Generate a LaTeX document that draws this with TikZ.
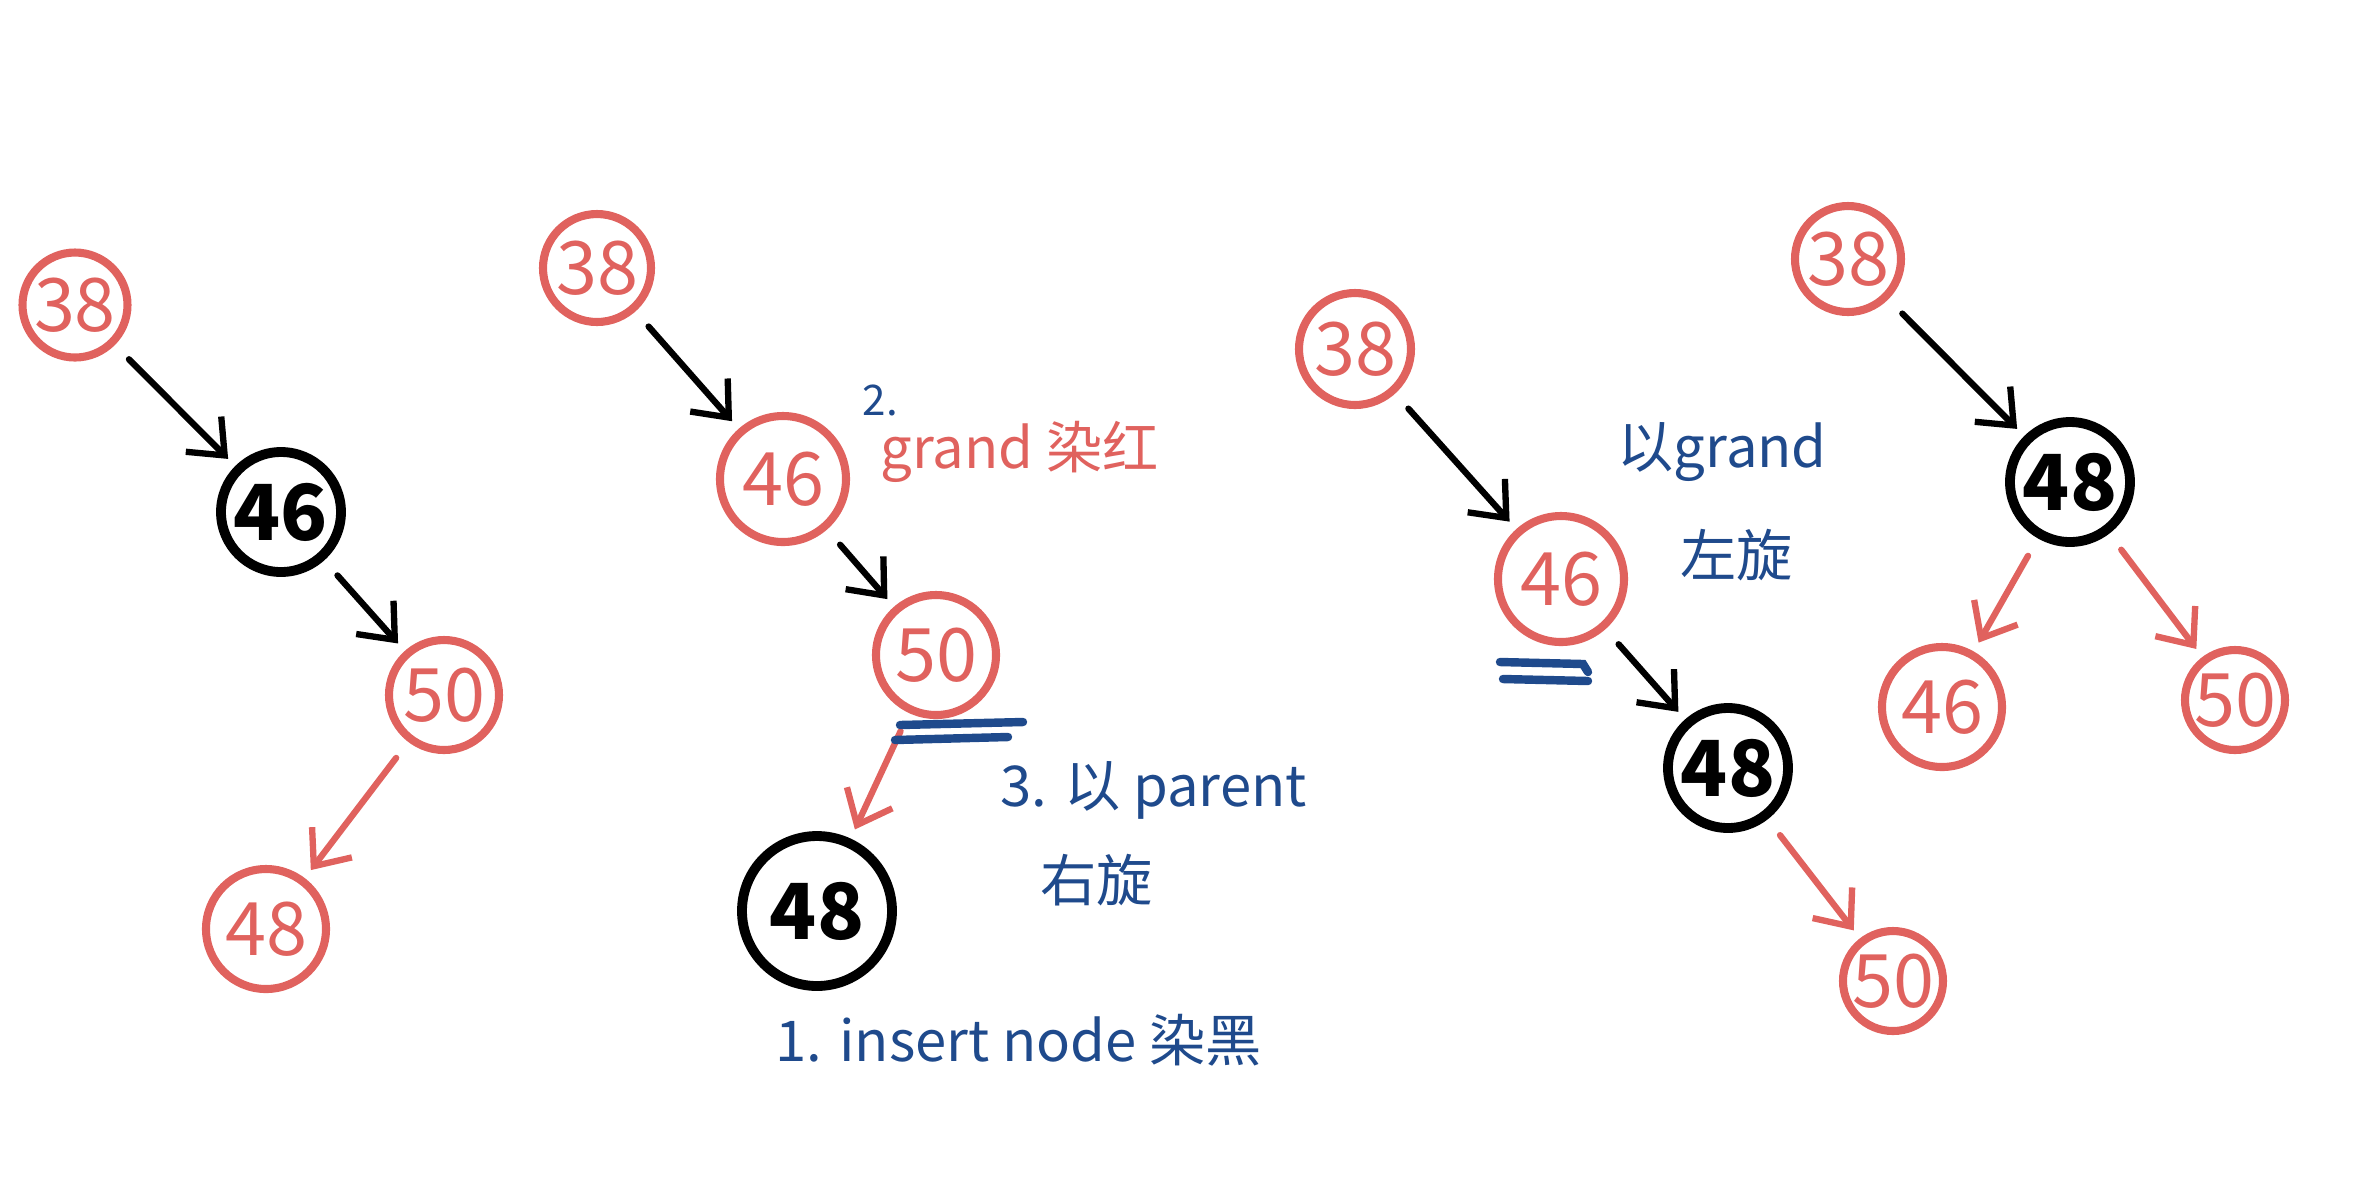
\documentclass[tikz,border=0pt]{standalone}
\usepackage{fontspec}
\setmainfont{Noto Sans CJK SC}
\usepackage{tikz}
\usetikzlibrary{arrows.meta}
\definecolor{redpen}{HTML}{E0625E}
\definecolor{bluepen}{HTML}{1F4A8C}
\tikzset{
    rednode/.style={circle, draw=redpen, text=redpen, line width=2.3pt, inner sep=0pt,
        font=\fontsize{21}{21}\selectfont},
    blacknode/.style={circle, draw=black, text=black, line width=2.8pt, inner sep=0pt,
        font=\fontsize{22}{22}\selectfont\bfseries},
    blackarrow/.style={draw=black, line width=1.8pt, line cap=round,
        -{Straight Barb[length=3mm,width=5mm,line width=1.8pt]},
        shorten <=2mm, shorten >=1mm},
    redarrow/.style={blackarrow, draw=redpen},
    note/.style={anchor=west, inner sep=0pt, font=\fontsize{16}{16}\selectfont},
    pen/.style={draw=bluepen, line width=2.4pt, line cap=round},
}
\begin{document}
\begin{tikzpicture}
\useasboundingbox (0,0) rectangle (23.6,-11.88);
% first tree: insert 48
\node[rednode, minimum size=1.05cm] (a38) at (0.75,-3.05) {38};
\node[blacknode, minimum size=1.2cm] (a46) at (2.81,-5.12) {46};
\node[rednode, minimum size=1.1cm] (a50) at (4.44,-6.95) {50};
\node[rednode, minimum size=1.2cm] (a48) at (2.66,-9.29) {48};
\draw[blackarrow] (a38) -- (a46);
\draw[blackarrow] (a46) -- (a50);
\draw[redarrow] (a50) -- (a48);
% second tree: recolor, right rotation at parent
\node[rednode, minimum size=1.08cm] (b38) at (5.97,-2.68) {38};
\node[rednode, minimum size=1.26cm] (b46) at (7.83,-4.79) {46};
\node[rednode, minimum size=1.2cm] (b50) at (9.36,-6.55) {50};
\node[blacknode, minimum size=1.5cm] (b48) at (8.17,-9.11) {48};
\draw[blackarrow] (b38) -- (b46);
\draw[blackarrow] (b46) -- (b50);
\draw[redarrow] (b50) -- (b48);
\coordinate (u1) at (9.00,-7.25);
\coordinate (u2) at (10.23,-7.22);
\coordinate (u3) at (8.95,-7.40);
\coordinate (u4) at (10.08,-7.37);
\draw[pen] (u1) -- (u2);
\draw[pen] (u3) -- (u4);
\node[note, text=bluepen, font=\fontsize{12}{12}\selectfont] (step2) at (8.62,-4.0) {2.};
\node[note, text=redpen] (grand) at (8.80,-4.52) {grand 染红};
\node[note, text=bluepen] (step3) at (10.0,-7.9) {3. 以 parent};
\node[note, text=bluepen] (rotr) at (10.4,-8.8) {右旋};
\node[note, text=bluepen] (step1) at (7.75,-10.4) {1. insert node 染黑};
% third tree: left rotation at grand
\node[rednode, minimum size=1.12cm] (c38) at (13.55,-3.49) {38};
\node[rednode, minimum size=1.26cm] (c46) at (15.61,-5.79) {46};
\node[blacknode, minimum size=1.2cm] (c48) at (17.28,-7.68) {48};
\node[rednode, minimum size=1.0cm] (c50) at (18.93,-9.81) {50};
\draw[blackarrow] (c38) -- (c46);
\draw[blackarrow] (c46) -- (c48);
\draw[redarrow] (c48) -- (c50);
\coordinate (v1) at (15.00,-6.62);
\coordinate (v2) at (15.83,-6.64);
\coordinate (v3) at (15.03,-6.79);
\coordinate (v4) at (15.88,-6.81);
\draw[pen] (v1) -- (v2) -- (15.88,-6.72);
\draw[pen] (v3) -- (v4);
\node[note, text=bluepen] (rotl1) at (16.17,-4.52) {以grand};
\node[note, text=bluepen] (rotl2) at (16.80,-5.55) {左旋};
% fourth tree: result
\node[rednode, minimum size=1.06cm] (d38) at (18.48,-2.59) {38};
\node[blacknode, minimum size=1.2cm] (d48) at (20.70,-4.82) {48};
\node[rednode, minimum size=1.2cm] (d46) at (19.42,-7.07) {46};
\node[rednode, minimum size=1.0cm] (d50) at (22.35,-7.00) {50};
\draw[blackarrow] (d38) -- (d48);
\draw[redarrow] (d48) -- (d46);
\draw[redarrow] (d48) -- (d50);
\end{tikzpicture}
\end{document}
